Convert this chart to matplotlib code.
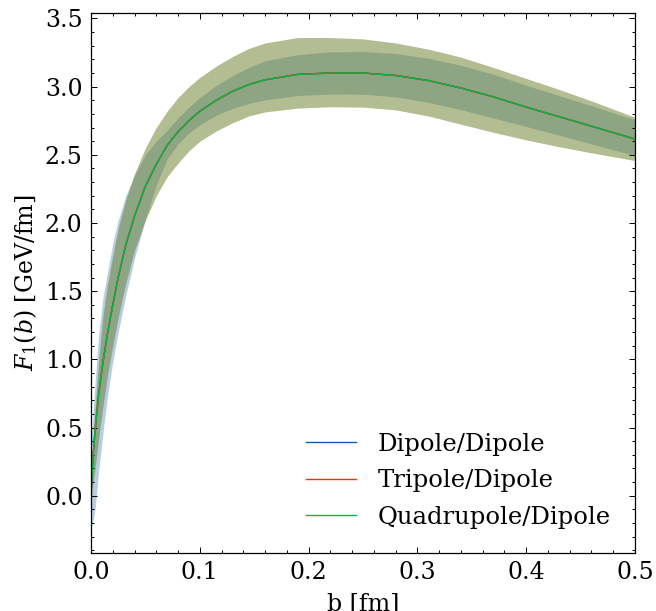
import numpy as np
import matplotlib
matplotlib.use('Agg')
import matplotlib.pyplot as plt

# impact parameter grid [fm]
b = [0.0, 0.002, 0.004, 0.007, 0.011, 0.015, 0.020, 0.025, 0.032, 0.040, 0.050,
     0.060, 0.070, 0.080, 0.090, 0.100, 0.115, 0.130, 0.145, 0.160, 0.190, 0.220,
     0.250, 0.280, 0.310, 0.340, 0.370, 0.400, 0.430, 0.460, 0.500]

# central curve (the three fits sit on top of each other)
fCentral = [0.02, 0.30, 0.50, 0.74, 0.98, 1.18, 1.40, 1.60, 1.84, 2.05, 2.27,
            2.43, 2.57, 2.67, 2.75, 2.82, 2.90, 2.965, 3.015, 3.05, 3.09, 3.10,
            3.10, 3.082, 3.045, 2.99, 2.925, 2.85, 2.78, 2.71, 2.616]

# Dipole/Dipole band
dipLo = [-0.24, -0.18, -0.08, 0.18, 0.46, 0.72, 0.98, 1.20, 1.47, 1.74, 2.03,
         2.28, 2.47, 2.58, 2.66, 2.72, 2.79, 2.84, 2.877, 2.903, 2.935, 2.946,
         2.945, 2.925, 2.885, 2.832, 2.77, 2.708, 2.645, 2.58, 2.494]
dipHi = [0.38, 0.62, 0.85, 1.18, 1.45, 1.63, 1.85, 2.02, 2.20, 2.35, 2.50,
         2.60, 2.68, 2.77, 2.85, 2.92, 3.01, 3.08, 3.14, 3.19, 3.235, 3.255,
         3.258, 3.243, 3.208, 3.157, 3.09, 3.01, 2.935, 2.86, 2.757]

# Tripole/Dipole and Quadrupole/Dipole bands
triLo = [-0.04, 0.10, 0.22, 0.42, 0.66, 0.88, 1.10, 1.31, 1.56, 1.80, 2.02,
         2.20, 2.34, 2.44, 2.53, 2.60, 2.675, 2.735, 2.785, 2.815, 2.843, 2.853,
         2.85, 2.83, 2.785, 2.725, 2.665, 2.61, 2.56, 2.515, 2.458]
triHi = [0.10, 0.42, 0.66, 0.98, 1.32, 1.54, 1.76, 1.96, 2.17, 2.36, 2.55,
         2.70, 2.82, 2.92, 3.00, 3.067, 3.15, 3.22, 3.28, 3.32, 3.36, 3.36,
         3.35, 3.32, 3.275, 3.216, 3.14, 3.06, 2.98, 2.895, 2.775]
quadLo = triLo
quadHi = triHi

labels = ['Dipole/Dipole', 'Tripole/Dipole', 'Quadrupole/Dipole']
colors = ['#0C5DA5', '#FF2C00', '#00B945']

plt.rcParams['font.family'] = 'DejaVu Serif'
plt.rcParams['mathtext.fontset'] = 'dejavuserif'
plt.rcParams['font.size'] = 17

fig = plt.figure(figsize=(6.56, 6.11), dpi=100)
ax = fig.add_axes([0.1387, 0.0949, 0.8293, 0.8838])

bands = [(dipLo, dipHi), (triLo, triHi), (quadLo, quadHi)]
for (lo, hi), col, lab in zip(bands, colors, labels):
    ax.fill_between(b, lo, hi, color=col, alpha=0.3, linewidth=0)
    ax.plot(b, fCentral, color=col, lw=1.0, label=lab)

ax.set_xlim(0, 0.5)
ax.set_ylim(-0.42, 3.54)
ax.set_xticks([0.0, 0.1, 0.2, 0.3, 0.4, 0.5])
ax.set_yticks(np.arange(0, 3.51, 0.5))
ax.xaxis.set_minor_locator(matplotlib.ticker.MultipleLocator(0.02))
ax.yaxis.set_minor_locator(matplotlib.ticker.MultipleLocator(0.1))
ax.tick_params(which='both', direction='in', top=True, right=True, width=0.7, pad=6)
ax.tick_params(which='major', length=4.5)
ax.tick_params(which='minor', length=2.3)
for sp in ax.spines.values():
    sp.set_linewidth(0.9)

ax.set_xlabel('b [fm]', labelpad=6)
ax.set_ylabel(r'$F_1(b)$ [GeV/fm]')

ax.legend(loc='lower right', frameon=False, fontsize=17.5, handlelength=2.05,
          handletextpad=0.9, labelspacing=0.55, borderaxespad=0.6)

fig.savefig('out.png', dpi=100)
